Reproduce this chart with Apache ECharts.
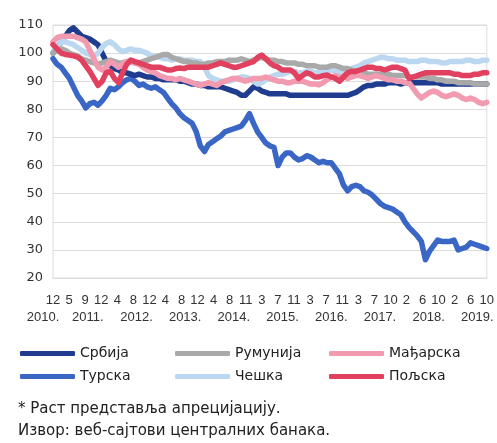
<!DOCTYPE html>
<html>
<head>
<meta charset="utf-8">
<script src="https://cdn.jsdelivr.net/npm/echarts@6/dist/echarts.min.js"></script>
<style>
  html, body { margin: 0; padding: 0; background: #fff; }
  #main { width: 497px; height: 443px; }
</style>
</head>
<body>
<div id="main"></div>
<script>
// monthly points, Dec 2010 (index 0) .. Oct 2019 (index 106)
var serbia = [
    100, 102, 104, 106, 108, 109, 107.5, 106, 105.5, 105,
    104, 103, 100, 97, 95.5, 94.5, 94, 93, 93, 92.5,
    92, 92.5, 92, 91.5, 91.5, 91, 91, 90.5, 90.5, 90.5,
    90.5, 90, 90, 89.5, 89, 89, 88.5, 88.5, 88, 88,
    88, 88, 87.5, 87, 86.5, 86, 85, 85, 86.5, 88,
    87.5, 86.5, 86, 85.5, 85.5, 85.5, 85.5, 85.5, 85, 85,
    85, 85, 85, 85, 85, 85, 85, 85, 85, 85,
    85, 85, 85, 85.5, 86, 87, 88, 88.5, 88.5, 89,
    89, 89, 89.5, 89.5, 89.5, 89, 89.5, 89.5, 89.5, 89.5,
    89.5, 89.5, 89.5, 89.5, 89.5, 89, 89, 89, 89, 89,
    89, 89, 89, 89, 89, 89, 89
];
var turkey = [
    98, 96, 95, 93, 91, 88, 85, 83, 80.5, 82,
    82.5, 81.5, 83, 85, 87.5, 87, 88, 89.5, 90.5, 91,
    90, 88.5, 89, 88, 87.5, 88, 87, 86, 84, 82,
    80.5, 78.5, 77, 76, 75, 72, 67, 65, 67.5, 68.5,
    69.5, 70.5, 72, 72.5, 73, 73.5, 74, 76, 78.5, 75,
    72, 70, 68, 67, 66.5, 60, 63, 64.5, 64.5, 63,
    62, 62.5, 63.5, 63, 62, 61, 61.5, 61, 61, 59,
    57, 53, 51, 52.5, 53, 52.5, 51, 50.5, 49.5, 48,
    46.5, 45.5, 45, 44.5, 43.5, 42.5, 40, 38, 36.5, 35,
    33, 26.5, 29.5, 31.5, 33.5, 33, 33, 33, 33.5, 30,
    30.5, 31, 32.5, 32, 31.5, 31, 30.5
];
var romania = [
    100, 101, 101.5, 101, 100, 99.5, 99, 98, 97.5, 97,
    96.5, 96, 96.5, 97, 97.5, 97, 96.5, 96.5, 97, 97,
    96.5, 96.5, 97, 97.5, 98, 98.5, 99, 99.5, 99.5, 98.5,
    98, 97.5, 97, 97, 96.5, 96.5, 96, 96, 96.5, 96.5,
    97, 97, 97, 97.5, 97.5, 97.5, 98, 97.5, 97, 97.5,
    98, 98.5, 98, 97.5, 97.5, 97, 97, 96.5, 96.5, 96.5,
    96, 96, 95.5, 95.5, 95.5, 95, 95, 95, 95.5, 95.5,
    95, 94.5, 94.5, 94, 93.5, 93, 93, 92.5, 92.5, 92.5,
    92.5, 92.5, 92.5, 92, 92, 92, 92, 91.5, 91.5, 91.5,
    91.5, 91.5, 91, 91, 90.5, 90.5, 90, 90, 90, 89.5,
    89.5, 89.5, 89.5, 89, 89, 89, 89
];
var czech = [
    100, 102, 104, 104, 103.5, 103, 102, 101, 100, 99.5,
    99, 100, 102, 103.5, 104, 103, 101.5, 100.5, 101, 101.5,
    101, 101, 100.5, 100, 99, 98.5, 98.5, 98, 98, 97.5,
    98, 98, 97.5, 97.5, 97.5, 97, 97, 95, 92, 91,
    90.5, 90, 90, 90, 90.5, 91, 91.5, 91.5, 91, 90,
    89, 89.5, 90.5, 91.5, 92, 92.5, 92.5, 93, 93.5, 93.5,
    93, 93, 93.5, 93.5, 93, 93, 93, 93.5, 94, 93.5,
    93, 93.5, 94, 94.5, 95, 95.5, 96.5, 97, 97.5, 98,
    98.5, 98.5, 98, 98, 97.5, 97.5, 97.5, 97, 97, 97,
    97.5, 97.5, 97, 97, 97, 96.5, 96.5, 97, 97, 97,
    97, 97.5, 97.5, 97, 97, 97.5, 97.5
];
var hungary = [
    104, 105.5, 106, 106, 106, 106, 105.5, 105, 104, 101,
    98, 95, 94, 95, 97, 96, 95, 96, 97, 97,
    96.5, 96, 95, 94, 93.5, 93, 92, 91.5, 91, 91,
    90.5, 91, 90.5, 90, 89.5, 89, 88.5, 89, 89.5, 89,
    88.5, 89.5, 90, 90.5, 91, 91, 90.5, 90, 90.5, 91,
    91, 91, 91.5, 91, 90.5, 90, 90, 89.5, 89.5, 90,
    90, 90, 89.5, 89, 89, 88.7, 89.5, 90.5, 91.5, 92,
    91.5, 91.5, 91, 91.5, 92, 92, 91.5, 91, 91.5, 92,
    91.5, 91, 90.5, 90.5, 90, 90, 89.5, 89.5, 87.5, 85.5,
    84, 85, 86, 86.5, 86, 85, 84.5, 85, 85.5, 85,
    84, 83.5, 84, 83.5, 82.5, 82, 82.5
];
var poland = [
    103, 101.5, 100, 99.5, 99.3, 99, 98.6, 97.5, 95.5, 93.5,
    91, 88.5, 90, 93, 93.5, 91, 89.5, 93, 96, 97.5,
    97, 96.5, 96, 95.5, 95, 95, 95, 94.5, 94, 94,
    94.5, 94.7, 94.5, 95, 95, 95, 95, 95, 95, 95.5,
    96, 96.5, 96, 95.5, 95, 95, 95.5, 96, 96.5, 97,
    98.5, 99.3, 98, 96.5, 95.5, 95, 94, 94, 94, 93,
    91, 92, 93, 92.5, 91.5, 91.5, 92, 92.2, 91.5, 91,
    90, 91.5, 93, 93.5, 93.5, 94, 94.5, 95, 95, 94.5,
    94.5, 94, 94.5, 95, 95, 94.5, 94, 91, 91.5, 92,
    92.5, 93, 93, 93, 93, 93, 93, 93, 92.5, 92.5,
    92, 92, 92, 92.5, 92.5, 93, 93
];

var monthTicks = ['12', '5', '9', '12', '4', '8', '12', '4', '8', '12', '4', '8', '11', '3',
    '7', '11', '3', '7', '11', '3', '7', '10', '2', '6', '10', '2', '6', '10'];
var yearTicks = ['2010.', '2011.', '2012.', '2013.', '2014.', '2015.', '2016.', '2017.', '2018.', '2019.'];
var yTicks = [20, 30, 40, 50, 60, 70, 80, 90, 100, 110];

var lastIdx = serbia.length - 1;
var monthPos = monthTicks.map(function (t, k) { return k * lastIdx / (monthTicks.length - 1); });
var yearPos = yearTicks.map(function (t, k) { return k === 0 ? 0 : 8.5 + 11.9 * (k - 1); });

function nearest(arr, v) {
    var best = 0;
    for (var i = 1; i < arr.length; i++) {
        if (Math.abs(arr[i] - v) < Math.abs(arr[best] - v)) best = i;
    }
    return best;
}

function pts(arr) {
    return arr.map(function (v, i) { return [i, v]; });
}

var font = 'Liberation Sans, Arial, sans-serif';
var wide = 'DejaVu Sans, sans-serif';

// drawing order: first is at the bottom
var lines = [
    { name: 'Турска', color: '#3a67c6', data: turkey },
    { name: 'Србија', color: '#1f3c8f', data: serbia },
    { name: 'Чешка', color: '#bcd7f0', data: czech },
    { name: 'Румунија', color: '#a9a9a9', data: romania },
    { name: 'Мађарска', color: '#f29bb0', data: hungary },
    { name: 'Пољска', color: '#e2405f', data: poland }
];

var legendBase = {
    orient: 'vertical',
    top: 345,
    padding: 0,
    itemWidth: 55,
    itemHeight: 5,
    itemGap: 6,
    icon: 'roundRect',
    textStyle: { fontFamily: wide, fontSize: 14, color: '#222', lineHeight: 17 }
};

var option = {
    animation: false,
    backgroundColor: '#fff',
    grid: { left: 53, right: 9, top: 25, bottom: 165, show: true, borderColor: '#dcdcdc', borderWidth: 1 },
    legend: [
        Object.assign({ left: 20, data: ['Србија', 'Турска'] }, legendBase),
        Object.assign({ left: 175, data: ['Румунија', 'Чешка'] }, legendBase),
        Object.assign({ left: 329, data: ['Мађарска', 'Пољска'] }, legendBase)
    ],
    xAxis: [{
        type: 'value',
        min: 0,
        max: lastIdx,
        axisLine: { show: true, lineStyle: { color: '#dcdcdc' } },
        axisTick: { show: false },
        splitLine: { show: false },
        axisLabel: {
            customValues: monthPos,
            margin: 16,
            fontFamily: font,
            fontSize: 13,
            color: '#333',
            formatter: function (v) { return monthTicks[nearest(monthPos, v)]; }
        }
    }, {
        type: 'value',
        min: 0,
        max: lastIdx,
        position: 'bottom',
        axisLine: { show: false },
        axisTick: { show: false },
        splitLine: { show: false },
        axisLabel: {
            customValues: yearPos,
            margin: 33,
            fontFamily: font,
            fontSize: 13,
            color: '#333',
            formatter: function (v) {
                var k = nearest(yearPos, v);
                return k === 0 ? '{first|' + yearTicks[k] + '}' : yearTicks[k];
            },
            rich: {
                first: { fontFamily: font, fontSize: 13, color: '#333', padding: [0, 20, 0, 0] }
            }
        }
    }],
    yAxis: {
        type: 'value',
        min: yTicks[0],
        max: yTicks[yTicks.length - 1],
        interval: 10,
        axisLine: { show: false },
        axisTick: { show: false },
        splitLine: { lineStyle: { color: '#dcdcdc' } },
        axisLabel: { fontFamily: wide, fontSize: 13, color: '#333', margin: 10 }
    },
    graphic: [
        { type: 'text', left: 18, top: 402, style: { text: '* Раст представља апрецијацију.', font: '15px ' + wide, fill: '#222' } },
        { type: 'text', left: 18, top: 424, style: { text: 'Извор: веб-сајтови централних банака.', font: '15px ' + wide, fill: '#222' } }
    ],
    series: lines.map(function (s) {
        return {
            name: s.name,
            type: 'line',
            data: pts(s.data),
            showSymbol: false,
            symbol: 'none',
            color: s.color,
            lineStyle: { width: 5.5, color: s.color, join: 'round', cap: 'round' }
        };
    })
};

var chart = echarts.init(document.getElementById('main'));
chart.setOption(option);
</script>
</body>
</html>
